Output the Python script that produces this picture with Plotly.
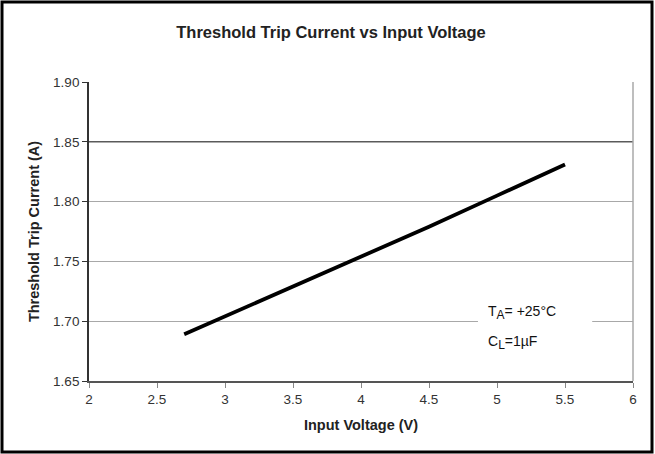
import plotly.graph_objects as go

# Threshold trip current measured across the input voltage range
input_voltage = [2.7, 3.0, 3.5, 4.0, 4.5, 5.0, 5.5]
trip_current = [1.689, 1.704, 1.729, 1.754, 1.779, 1.805, 1.831]

x_ticks = [2, 2.5, 3, 3.5, 4, 4.5, 5, 5.5, 6]
x_tick_text = ["2", "2.5", "3", "3.5", "4", "4.5", "5", "5.5", "6"]
y_ticks = [1.65, 1.70, 1.75, 1.80, 1.85, 1.90]
y_tick_text = ["1.65", "1.70", "1.75", "1.80", "1.85", "1.90"]

FONT = "Liberation Sans, Arial, sans-serif"

fig = go.Figure()
fig.add_trace(go.Scatter(
    x=input_voltage, y=trip_current, mode="lines",
    line=dict(color="#000000", width=3.8),
    showlegend=False, hoverinfo="x+y",
))

fig.update_layout(
    width=655, height=454,
    margin=dict(l=89, r=22, t=82, b=73),
    paper_bgcolor="white", plot_bgcolor="white",
    font=dict(family=FONT, color="#333333", size=12),
    title=dict(
        text="<b>Threshold Trip Current vs Input Voltage</b>",
        x=331 / 655, xanchor="center", y=1 - 32 / 454, yanchor="middle",
        font=dict(family=FONT, size=16.5, color="#222222"),
    ),
    xaxis=dict(
        range=[2, 6], tickvals=x_ticks, ticktext=x_tick_text,
        showgrid=False, zeroline=False,
        showline=True, linecolor="#555555", linewidth=1.5,
        ticks="outside", ticklen=5, tickcolor="#888888", tickwidth=1,
        tickfont=dict(family=FONT, size=13.5, color="#333333"),
        title=dict(text="<b>Input Voltage (V)</b>", standoff=14,
                   font=dict(family=FONT, size=14.5, color="#222222")),
    ),
    yaxis=dict(
        range=[1.65, 1.90], tickvals=y_ticks, ticktext=y_tick_text,
        showgrid=True, gridcolor="#a8a8a8", gridwidth=1.2, zeroline=False,
        showline=True, linecolor="#333333", linewidth=1.8,
        ticks="outside", ticklen=5, tickcolor="#333333", tickwidth=1.2,
        tickfont=dict(family=FONT, size=13.5, color="#333333"),
        title=dict(text="<b>Threshold Trip Current (A)</b>", standoff=10,
                   font=dict(family=FONT, size=14.5, color="#222222")),
    ),
)

shapes = [
    # darker reference line at 1.85 A
    dict(type="line", xref="paper", yref="y", x0=0, x1=1, y0=1.85, y1=1.85,
         line=dict(color="#5a5a5a", width=1.6), layer="above"),
    # right-hand plot border
    dict(type="line", xref="paper", yref="paper", x0=1, x1=1, y0=0, y1=1,
         line=dict(color="#a8a8a8", width=1.5), layer="above"),
    # white backing behind the conditions text
    dict(type="rect", xref="x", yref="y", x0=4.86, x1=5.70, y0=1.675, y1=1.725,
         fillcolor="white", line=dict(width=0), layer="above"),
    # outer frame around the whole figure
    dict(type="rect", xref="paper", yref="paper",
         x0=(2 - 89) / 544, x1=(652 - 89) / 544,
         y0=(381 - 452) / 299, y1=(381 - 2) / 299,
         line=dict(color="#000000", width=3), fillcolor="rgba(0,0,0,0)"),
]
fig.update_layout(shapes=shapes)

fig.add_annotation(x=4.92, y=1.707, xref="x", yref="y", xanchor="left", yanchor="middle",
                   text="T<sub><span style='font-size:12px'>A</span></sub>= +25°C",
                   showarrow=False, font=dict(family=FONT, size=14, color="#111111"))
fig.add_annotation(x=4.92, y=1.6825, xref="x", yref="y", xanchor="left", yanchor="middle",
                   text="C<sub><span style='font-size:12px'>L</span></sub>=1µF",
                   showarrow=False, font=dict(family=FONT, size=14, color="#111111"))

fig.write_html("out.html")
